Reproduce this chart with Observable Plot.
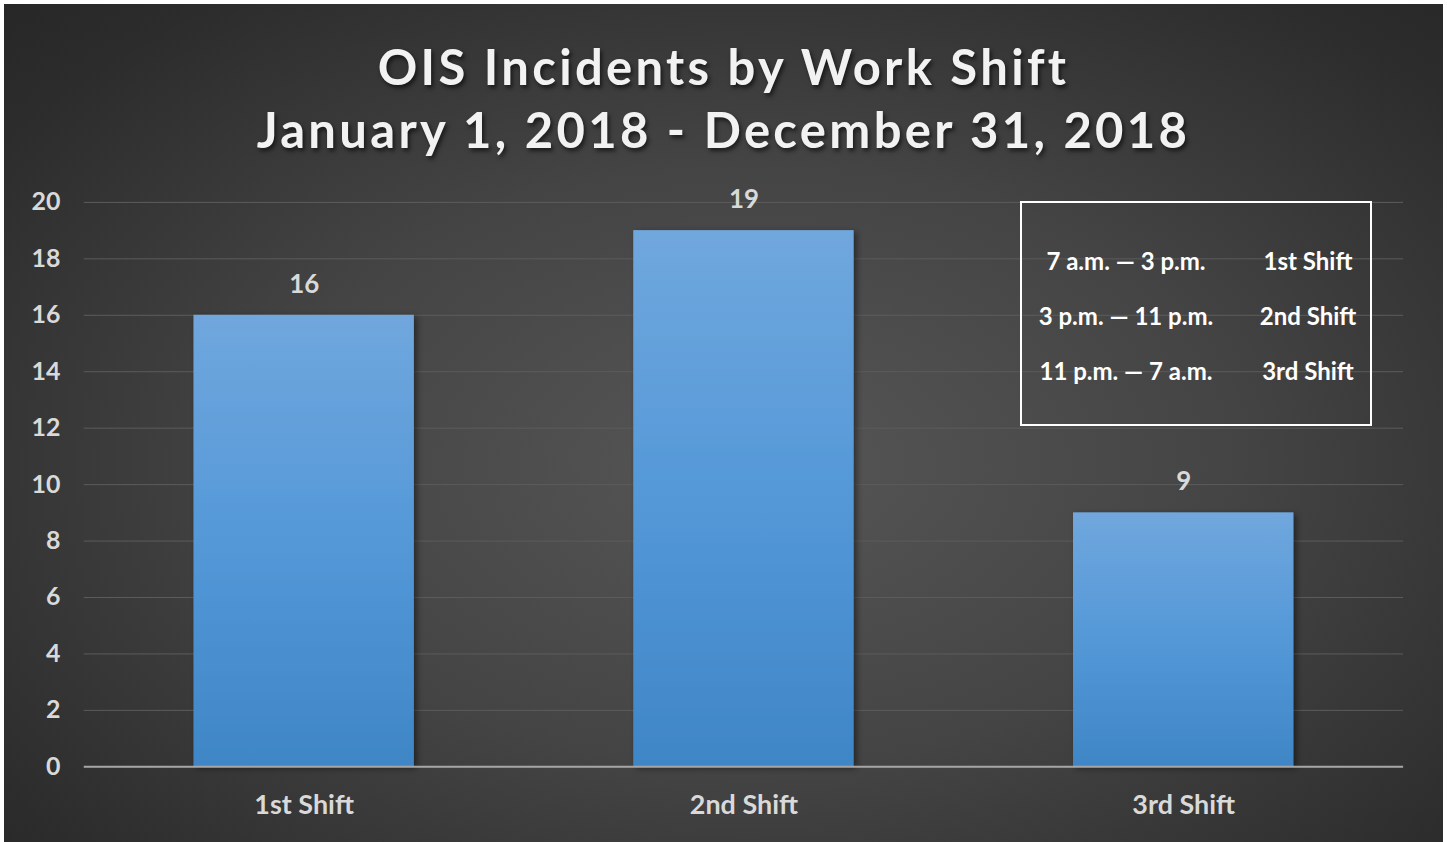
<!DOCTYPE html>
<html>
<head>
<meta charset="utf-8">
<script src="https://cdn.jsdelivr.net/npm/d3@7"></script>
<script src="https://cdn.jsdelivr.net/npm/@observablehq/plot@0.6"></script>
<style>
  html, body { margin: 0; padding: 0; background: #ffffff; }
  #frame {
    position: absolute; left: 4px; top: 4px; width: 1439px; height: 838px;
    background: radial-gradient(ellipse 75% 80% at 52% 55%, #565656 0%, #444444 45%, #2c2c2c 85%, #262626 100%);
    overflow: hidden;
    font-family: Lato, "Open Sans", sans-serif;
  }
  .title {
    position: absolute; left: -4px; width: 1447px; text-align: center;
    color: #f2f2f2; font-weight: 700; letter-spacing: 3.3px;
    text-shadow: 2px 3px 4px rgba(0,0,0,0.6);
    font-size: 49px; line-height: 1;
  }
  #chart { position: absolute; left: -4px; top: 163px; }
  #legend {
    position: absolute; left: 1016px; top: 197px; width: 348px; height: 221px;
    border: 2px solid #ffffff; box-sizing: content-box;
    color: #ffffff; font-weight: 700; font-size: 24px;
  }
  .row { position: absolute; left: 0; width: 100%; height: 30px; line-height: 30px; }
  .row span { position: absolute; text-align: center; white-space: nowrap; }
  .row .t { left: 4px; width: 200px; }
  .row .s { left: 186px; width: 200px; }
</style>
</head>
<body>
<div id="frame">
  <div class="title" id="t1" style="top:38px;"></div>
  <div class="title" id="t2" style="top:101px;"></div>
  <div id="chart"></div>
  <div id="legend"></div>
</div>
<script>
const titleLines = ["OIS Incidents by Work Shift", "January 1, 2018 - December 31, 2018"];
const shifts = ["1st Shift", "2nd Shift", "3rd Shift"];
const incidents = [16, 19, 9];
const yTicks = [0, 2, 4, 6, 8, 10, 12, 14, 16, 18, 20];
const legendTimes = ["7 a.m. \u2014 3 p.m.", "3 p.m. \u2014 11 p.m.", "11 p.m. \u2014 7 a.m."];
const legendShifts = ["1st Shift", "2nd Shift", "3rd Shift"];

document.getElementById("t1").textContent = titleLines[0];
document.getElementById("t2").textContent = titleLines[1];

const data = shifts.map((s, i) => ({shift: s, value: incidents[i]}));

const defs = () => {
  const g = d3.create("svg:defs");
  const lg = g.append("linearGradient").attr("id", "barGrad").attr("x1", 0).attr("y1", 0).attr("x2", 0).attr("y2", 1);
  lg.append("stop").attr("offset", "0%").attr("stop-color", "#70a7dd");
  lg.append("stop").attr("offset", "50%").attr("stop-color", "#5498d8");
  lg.append("stop").attr("offset", "100%").attr("stop-color", "#3f86c6");
  const f = g.append("filter").attr("id", "shadow").attr("x", "-10%").attr("y", "-10%").attr("width", "130%").attr("height", "130%");
  f.append("feDropShadow").attr("dx", 3).attr("dy", 2).attr("stdDeviation", 3).attr("flood-color", "#000").attr("flood-opacity", 0.45);
  return g.node();
};

const chart = Plot.plot({
  width: 1447,
  height: 674,
  marginTop: 35,
  marginBottom: 73,
  marginLeft: 84,
  marginRight: 40,
  style: {background: "transparent", color: "#d9d9d9", fontFamily: "Lato, 'Open Sans', sans-serif", fontWeight: "700", overflow: "visible"},
  x: {domain: shifts, paddingInner: 0.5, paddingOuter: 0.25, label: null},
  y: {domain: [0, 20], ticks: yTicks, label: null},
  marks: [
    defs,
    Plot.gridY(yTicks, {stroke: "#5c5c5c", strokeOpacity: 1, strokeWidth: 1}),
    Plot.barY(data, {x: "shift", y: "value", fill: "url(#barGrad)"}),
    Plot.ruleY([0], {stroke: "#a6a6a6", strokeWidth: 2}),
    Plot.text(data, {x: "shift", y: "value", text: d => String(d.value), dy: -31, fontSize: 26, fill: "#d9d9d9", fontWeight: 700}),
    Plot.axisY({ticks: yTicks, tickSize: 0, tickPadding: 24, fontSize: 25, fill: "#d9d9d9", label: null}),
    Plot.axisX({tickSize: 0, tickPadding: 28, fontSize: 27, fill: "#d9d9d9", label: null})
  ]
});
d3.select(chart).selectAll("g[aria-label='bar'] rect").attr("filter", "url(#shadow)");
document.getElementById("chart").appendChild(chart);

const legend = document.getElementById("legend");
const rowTops = [43, 98, 153];
legendTimes.forEach((t, i) => {
  const r = document.createElement("div");
  r.className = "row";
  r.style.top = rowTops[i] + "px";
  const a = document.createElement("span"); a.className = "t"; a.textContent = t;
  const b = document.createElement("span"); b.className = "s"; b.textContent = legendShifts[i];
  r.appendChild(a); r.appendChild(b);
  legend.appendChild(r);
});
</script>
</body>
</html>
